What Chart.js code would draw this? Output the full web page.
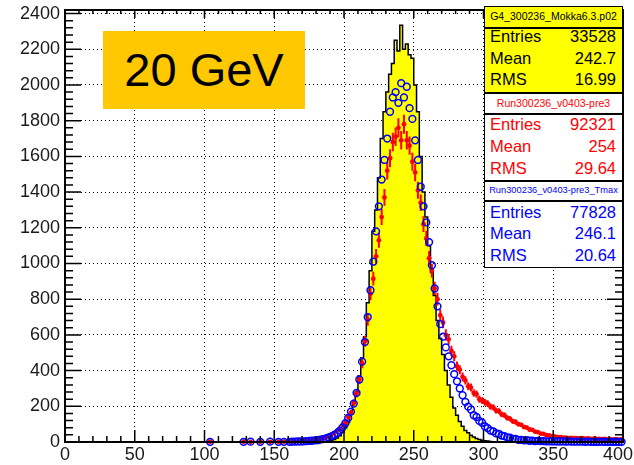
<!DOCTYPE html>
<html lang="en">
<head>
<meta charset="UTF-8" />
<title>20 GeV</title>
<script src="https://cdn.jsdelivr.net/npm/chart.js"></script>
<style>
  html, body { margin: 0; padding: 0; background: #fff; }
  #wrap { position: relative; width: 634px; height: 465px; font-family: "Liberation Sans", Arial, sans-serif; }
  #wrap canvas { position: absolute; left: 0; top: 0; }
  .box { position: absolute; left: 484px; width: 139px; box-sizing: border-box; border: 1.5px solid #000; }
  .title { text-align: center; white-space: nowrap; overflow: hidden; }
  .row { position: absolute; left: 5px; right: 6px; height: 22px; line-height: 22px; font-size: 16.5px;
         display: flex; justify-content: space-between; white-space: nowrap; }
  .energy { position: absolute; left: 103px; top: 31px; width: 202px; height: 78px; background: #ffc800;
            font-size: 47px; line-height: 78px; text-align: center; color: #000; }
</style>
</head>
<body>
<div id="wrap">
  <canvas id="chart" width="634" height="465"></canvas>

  <div class="energy">20 GeV</div>

  <!-- stat boxes, ROOT style -->
  <div class="box title" style="top:6px;height:22px;line-height:19px;font-size:10.5px;background:#ffff00;color:#000">G4_300236_Mokka6.3.p02</div>
  <div class="box" style="top:28px;height:65px;background:#ffff00;color:#000">
    <div class="row" style="top:-4px"><span>Entries</span><span>33528</span></div>
    <div class="row" style="top:18px"><span>Mean</span><span>242.7</span></div>
    <div class="row" style="top:39px"><span>RMS</span><span>16.99</span></div>
  </div>

  <div class="box title" style="top:93px;height:21px;line-height:18px;font-size:10.5px;background:#fff;color:#ff0000">Run300236_v0403-pre3</div>
  <div class="box" style="top:114px;height:67px;background:#fff;color:#ff0000">
    <div class="row" style="top:-2px"><span>Entries</span><span>92321</span></div>
    <div class="row" style="top:20px"><span>Mean</span><span>254</span></div>
    <div class="row" style="top:42px"><span>RMS</span><span>29.64</span></div>
  </div>

  <div class="box title" style="top:181px;height:20px;line-height:17px;font-size:9.3px;background:#fff;color:#0000ff">Run300236_v0403-pre3_Tmax</div>
  <div class="box" style="top:201px;height:67px;background:#fff;color:#0000ff">
    <div class="row" style="top:-1px"><span>Entries</span><span>77828</span></div>
    <div class="row" style="top:20px"><span>Mean</span><span>246.1</span></div>
    <div class="row" style="top:42px"><span>RMS</span><span>20.64</span></div>
  </div>
</div>

<script>
  // bin centres (bin width 2)
  const binCenters = [
    161, 163, 165, 167, 169, 171, 173, 175, 177, 179,
    181, 183, 185, 187, 189, 191, 193, 195, 197, 199,
    201, 203, 205, 207, 209, 211, 213, 215, 217, 219,
    221, 223, 225, 227, 229, 231, 233, 235, 237, 239,
    241, 243, 245, 247, 249, 251, 253, 255, 257, 259,
    261, 263, 265, 267, 269, 271, 273, 275, 277, 279,
    281, 283, 285, 287, 289, 291, 293, 295, 297, 299,
    301, 303, 305, 307, 309, 311, 313, 315, 317, 319,
    321, 323, 325, 327, 329, 331, 333, 335, 337, 339,
    341, 343, 345, 347, 349, 351, 353, 355, 357, 359,
    361, 363, 365, 367, 369, 371, 373, 375, 377, 379,
    381, 383, 385, 387, 389, 391, 393, 395, 397, 399
  ];

  // G4 simulation (yellow histogram)
  const g4Counts = [
    0, 0, 0, 0, 0, 0, 0, 0, 0, 0,
    0, 1, 2, 3, 5, 8, 14, 22, 35, 55,
    80, 110, 160, 215, 280, 370, 470, 590, 780, 960,
    1180, 1300, 1480, 1700, 1850, 1960, 2060, 2120, 2250, 2190,
    2335, 2200, 2230, 2170, 2150, 2000, 1850, 1600, 1400, 1260,
    1100, 950, 820, 680, 580, 490, 400, 320, 250, 190,
    150, 115, 88, 65, 52, 38, 28, 20, 14, 10,
    7, 5, 3, 2, 1, 0, 0, 0, 0, 0,
    0, 0, 0, 0, 0, 0, 0, 0, 0, 0,
    0, 0, 0, 0, 0, 0, 0, 0, 0, 0,
    0, 0, 0, 0, 0, 0, 0, 0, 0, 0,
    0, 0, 0, 0, 0, 0, 0, 0, 0, 0
  ];

  // data run (red points)
  const dataCounts = [
    2, 3, 2, 4, 5, 5, 7, 8, 9, 12,
    14, 17, 21, 26, 33, 40, 50, 62, 74, 95,
    110, 140, 165, 220, 270, 350, 440, 565, 685, 830,
    915, 1040, 1130, 1260, 1370, 1520, 1590, 1680, 1710, 1760,
    1690, 1780, 1690, 1660, 1570, 1510, 1410, 1340, 1220, 1140,
    1030, 960, 860, 800, 710, 670, 600, 575, 510, 480,
    425, 405, 365, 345, 312, 305, 275, 268, 240, 232,
    222, 215, 198, 194, 176, 173, 155, 150, 135, 130,
    116, 112, 100, 96, 84, 81, 70, 68, 58, 55,
    47, 45, 39, 37, 32, 31, 27, 27, 24, 25,
    22, 23, 21, 22, 20, 21, 19, 20, 18, 19,
    17, 18, 16, 17, 15, 16, 14, 16, 13, 15
  ];

  // data run with Tmax cut (blue circles)
  const tmaxCounts = [
    1, 2, 2, 3, 3, 4, 5, 6, 7, 9,
    10, 13, 16, 20, 26, 32, 40, 50, 64, 82,
    105, 135, 170, 215, 275, 350, 450, 560, 700, 850,
    1010, 1180, 1320, 1470, 1580, 1700, 1850, 1930, 1960, 1900,
    2010, 1930, 1990, 1870, 1810, 1690, 1580, 1430, 1320, 1230,
    1120, 990, 860, 760, 660, 590, 530, 480, 430, 380,
    340, 300, 262, 225, 198, 182, 150, 140, 118, 108,
    88, 78, 64, 60, 48, 46, 36, 33, 26, 24,
    18, 17, 12, 12, 9, 10, 7, 8, 5, 6,
    5, 5, 4, 4, 4, 3, 3, 3, 3, 2,
    3, 2, 2, 2, 2, 2, 1, 2, 1, 1,
    1, 1, 2, 1, 1, 1, 1, 1, 1, 1
  ];

  // isolated low-energy entries
  const lowTailX = [104, 128, 133, 140, 147, 153, 157];
  const lowTailData = [2, 2, 1, 2, 1, 2, 2];
  const lowTailTmax = [1, 1, 2, 1, 2, 1, 1];

  const xTickValues = [0, 50, 100, 150, 200, 250, 300, 350, 400];
  const yTickValues = [0, 200, 400, 600, 800, 1000, 1200, 1400, 1600, 1800, 2000, 2200, 2400];

  const toPoints = (xs, ys) => xs.map((x, i) => ({ x: x, y: ys[i] }));
  const g4Points = toPoints(binCenters, g4Counts);
  const dataPoints = toPoints(lowTailX, lowTailData).concat(toPoints(binCenters, dataCounts));
  const tmaxPoints = toPoints(lowTailX, lowTailTmax).concat(toPoints(binCenters, tmaxCounts));

  const FONT = '"Liberation Sans", Arial, sans-serif';

  // red error bars, drawn right after the red dataset so blue stays on top
  const errorBars = {
    id: 'errorBars',
    afterDatasetDraw(chart, args) {
      if (args.index !== 1) return;
      const { ctx, scales: { x, y } } = chart;
      ctx.save();
      ctx.strokeStyle = '#ff0000';
      ctx.lineWidth = 2;
      ctx.beginPath();
      chart.data.datasets[1].data.forEach(p => {
        const e = Math.sqrt(1.6 * p.y);
        const px = x.getPixelForValue(p.x);
        const py = y.getPixelForValue(p.y);
        ctx.moveTo(px, y.getPixelForValue(p.y - e));
        ctx.lineTo(px, y.getPixelForValue(p.y + e));
        ctx.moveTo(x.getPixelForValue(p.x - 1), py);
        ctx.lineTo(x.getPixelForValue(p.x + 1), py);
      });
      ctx.stroke();
      ctx.restore();
    }
  };

  // ROOT-like frame, inward ticks on all four sides, x labels kept inside the canvas
  const rootFrame = {
    id: 'rootFrame',
    afterDatasetsDraw(chart) {
      const { ctx, chartArea: a, scales: { x, y } } = chart;
      ctx.save();
      ctx.strokeStyle = '#000';
      ctx.lineWidth = 1.5;
      ctx.beginPath();
      for (let v = 0; v <= 400; v += 10) {
        const px = x.getPixelForValue(v);
        const major = v % 50 === 0;
        ctx.moveTo(px, a.bottom); ctx.lineTo(px, a.bottom - (major ? 12 : 6));
        ctx.moveTo(px, a.top); ctx.lineTo(px, a.top + (major ? 8 : 4));
      }
      for (let v = 0; v <= 2400; v += 40) {
        const py = y.getPixelForValue(v);
        const major = v % 200 === 0;
        ctx.moveTo(a.left, py); ctx.lineTo(a.left + (major ? 16 : 8), py);
        ctx.moveTo(a.right, py); ctx.lineTo(a.right - (major ? 16 : 8), py);
      }
      ctx.stroke();
      ctx.lineWidth = 2;
      ctx.strokeRect(a.left, a.top, a.right - a.left, a.bottom - a.top);

      ctx.font = '18px ' + FONT;
      ctx.fillStyle = '#1a1a1a';
      ctx.textAlign = 'center';
      ctx.textBaseline = 'middle';
      xTickValues.forEach(v => {
        const label = String(v);
        const w = ctx.measureText(label).width;
        const cx = Math.min(x.getPixelForValue(v), chart.width - 1 - w / 2);
        ctx.fillText(label, cx, a.bottom + 13);
      });
      ctx.restore();
    }
  };

  new Chart(document.getElementById('chart'), {
    type: 'line',
    data: {
      datasets: [
        {
          label: 'Run300236_v0403-pre3_Tmax',
          data: tmaxPoints,
          showLine: false,
          pointStyle: 'circle',
          pointRadius: 3.4,
          pointBorderWidth: 1.5,
          pointBorderColor: '#0000ff',
          pointBackgroundColor: 'rgba(0,0,0,0)',
          borderColor: '#0000ff',
          clip: 8
        },
        {
          label: 'Run300236_v0403-pre3',
          data: dataPoints,
          showLine: false,
          pointStyle: 'circle',
          pointRadius: 2.4,
          pointBorderWidth: 0,
          pointBackgroundColor: '#ff0000',
          borderColor: '#ff0000',
          clip: 8
        },
        {
          label: 'G4_300236_Mokka6.3.p02',
          data: g4Points,
          stepped: 'middle',
          fill: 'origin',
          backgroundColor: '#ffff00',
          borderColor: '#000',
          borderWidth: 1.5,
          pointRadius: 0
        }
      ]
    },
    options: {
      responsive: false,
      animation: false,
      events: [],
      layout: { padding: { top: 10, right: 11, left: 0, bottom: 0 } },
      plugins: { legend: { display: false }, tooltip: { enabled: false } },
      scales: {
        x: {
          type: 'linear',
          min: 0,
          max: 400,
          afterBuildTicks: s => { s.ticks = xTickValues.map(v => ({ value: v })); },
          afterFit: s => { s.height = 23; s.paddingLeft = 0; s.paddingRight = 0; },
          grid: { color: '#000', lineWidth: 1, drawTicks: false },
          border: { display: false, dash: [1, 3] },
          ticks: { display: false }
        },
        y: {
          min: 0,
          max: 2420,
          afterBuildTicks: s => { s.ticks = yTickValues.map(v => ({ value: v })); },
          afterFit: s => { s.width = 65; s.paddingTop = 0; s.paddingBottom = 0; },
          grid: { color: '#000', lineWidth: 1, drawTicks: false },
          border: { display: false, dash: [1, 3] },
          ticks: {
            font: { family: FONT, size: 18 },
            color: '#1a1a1a',
            padding: 5,
            autoSkip: false,
            callback: v => String(v)
          }
        }
      }
    },
    plugins: [errorBars, rootFrame]
  });
</script>
</body>
</html>
